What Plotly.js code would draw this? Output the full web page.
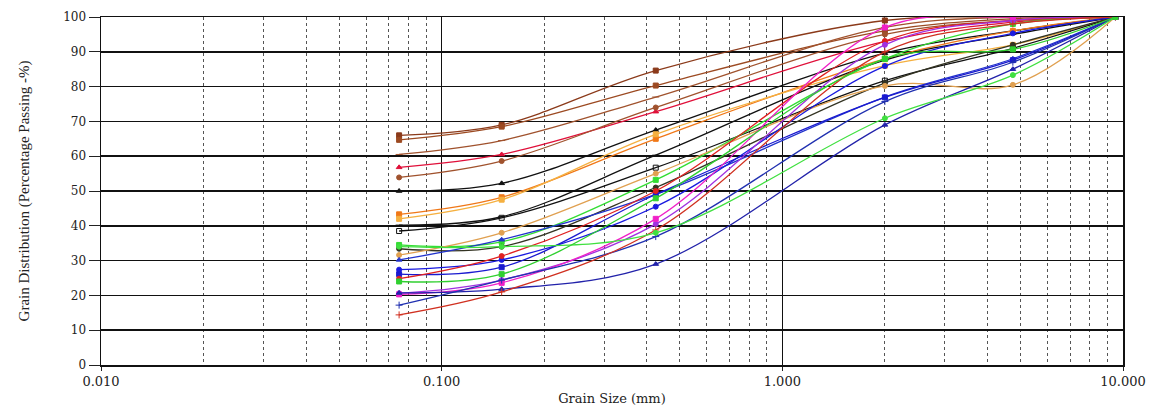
<!DOCTYPE html>
<html>
<head>
<meta charset="utf-8">
<script src="https://cdn.plot.ly/plotly-3.0.1.min.js"></script>
<style>html,body{margin:0;padding:0;background:#fff;}#chart{width:1151px;height:406px;}</style>
</head>
<body>
<div id="chart"></div>
<script>
// Sieve sizes (mm)
const sieveSizes = [0.075, 0.15, 0.425, 2.0, 4.75, 9.5];

// Percentage passing for each sample
const s01 = [66.0, 69.0, 84.6, 99.0, 100, 100];
const s02 = [64.7, 68.5, 80.3, 96.0, 99.5, 100];
const s03 = [60.5, 64.5, 77.0, 97.0, 100, 100];
const s04 = [56.8, 60.5, 72.8, 93.0, 98.5, 100];
const s05 = [53.9, 58.6, 74.0, 95.0, 99.0, 100];
const s06 = [50.0, 52.2, 67.5, 89.6, 96.0, 100];
const s07 = [43.3, 48.2, 65.0, 88.0, 96.0, 100];
const s08 = [42.0, 47.5, 66.3, 86.0, 92.0, 100];
const s09 = [40.2, 42.6, 60.3, 87.6, 95.0, 100];
const s10 = [38.5, 42.3, 56.7, 81.7, 91.0, 100];
const s11 = [34.5, 35.4, 53.2, 88.0, 98.0, 100];
const s12 = [33.4, 34.0, 51.0, 81.0, 92.0, 100];
const s13 = [31.6, 38.0, 55.0, 80.2, 80.5, 100];
const s14 = [30.2, 36.0, 49.0, 77.0, 88.0, 100];
const s15 = [27.4, 30.2, 45.5, 85.9, 95.3, 100];
const s16 = [26.1, 28.1, 49.0, 76.9, 87.6, 100];
const s17 = [24.8, 31.3, 50.0, 93.1, 99.0, 100];
const s18 = [20.6, 24.4, 40.5, 92.0, 99.0, 100];
const s19 = [20.3, 23.6, 42.0, 97.0, 100, 100];
const s20 = [20.7, 21.8, 29.0, 69.0, 85.0, 100];
const s21 = [17.2, 24.4, 36.9, 75.7, 87.0, 100];
const s22 = [14.4, 21.0, 38.8, 90.0, 98.0, 100];
const s23 = [34.0, 34.0, 38.0, 70.9, 83.3, 100];
const s24 = [24.0, 26.1, 47.9, 88.0, 90.7, 100];

const xTickVals = [0.01, 0.1, 1, 10];
const xTickText = ['0.010', '0.100', '1.000', '10.000'];
const yTickVals = [0, 10, 20, 30, 40, 50, 60, 70, 80, 90, 100];

const seriesList = [
  [s01, '#8B3A1A', 'square'],
  [s02, '#9C4A22', 'square'],
  [s03, '#A0522D', 'line-ew-open'],
  [s04, '#E0103A', 'triangle-up'],
  [s05, '#A0522D', 'circle'],
  [s06, '#111111', 'triangle-up'],
  [s07, '#F07818', 'square'],
  [s08, '#F5B040', 'square'],
  [s09, '#111111', 'line-ew-open'],
  [s10, '#111111', 'square-open'],
  [s11, '#33DD33', 'square'],
  [s12, '#333322', 'circle'],
  [s13, '#E0A050', 'circle'],
  [s14, '#2233CC', 'triangle-up'],
  [s15, '#1A1AE0', 'circle'],
  [s16, '#1A1AD0', 'square'],
  [s17, '#E02020', 'circle'],
  [s18, '#A030E0', 'circle'],
  [s19, '#F020C8', 'square'],
  [s20, '#2222AA', 'triangle-up'],
  [s21, '#2030B0', 'cross-thin-open'],
  [s22, '#D03020', 'cross-thin-open'],
  [s23, '#40E040', 'circle'],
  [s24, '#30D030', 'square']
];

const traces = seriesList.map(function (s) {
  return {
    x: sieveSizes,
    y: s[0],
    type: 'scatter',
    mode: 'lines+markers',
    line: {color: s[1], width: 1.3, shape: 'spline', smoothing: 1},
    marker: {color: s[1], symbol: s[2], size: 5, line: {color: s[1], width: 1}},
    showlegend: false,
    hoverinfo: 'x+y'
  };
});

const layout = {
  width: 1151,
  height: 406,
  margin: {l: 101, r: 28, t: 17, b: 41},
  paper_bgcolor: '#ffffff',
  plot_bgcolor: '#ffffff',
  showlegend: false,
  font: {family: '"DejaVu Serif", "Liberation Serif", serif', color: '#111'},
  xaxis: {
    type: 'log',
    range: [-2, 1],
    tickvals: xTickVals,
    ticktext: xTickText,
    ticks: 'outside',
    ticklen: 4,
    tickcolor: '#222',
    tickfont: {family: '"DejaVu Serif", serif', size: 13, color: '#222'},
    showgrid: true,
    gridcolor: '#111',
    gridwidth: 1.5,
    showline: true,
    linecolor: '#111',
    linewidth: 1.5,
    mirror: true,
    zeroline: false,
    minor: {dtick: 'D1', showgrid: true, gridcolor: '#555', griddash: 'dot', gridwidth: 1},
    title: {text: 'Grain Size (mm)', font: {family: '"DejaVu Serif", serif', size: 13, color: '#222'}, standoff: 7}
  },
  yaxis: {
    range: [0, 100],
    tickvals: yTickVals,
    ticks: 'outside',
    ticklen: 11,
    tickcolor: '#222',
    tickfont: {family: '"DejaVu Serif", serif', size: 12, color: '#222'},
    showgrid: true,
    gridcolor: '#111',
    gridwidth: 1.5,
    showline: true,
    linecolor: '#111',
    linewidth: 1.5,
    mirror: true,
    zeroline: false,
    title: {text: 'Grain Distribution (Percentage Passing -%)', font: {family: '"Liberation Serif", serif', size: 15, color: '#222'}, standoff: 30}
  }
};

Plotly.newPlot('chart', traces, layout, {displayModeBar: false, staticPlot: true});
</script>
</body>
</html>
